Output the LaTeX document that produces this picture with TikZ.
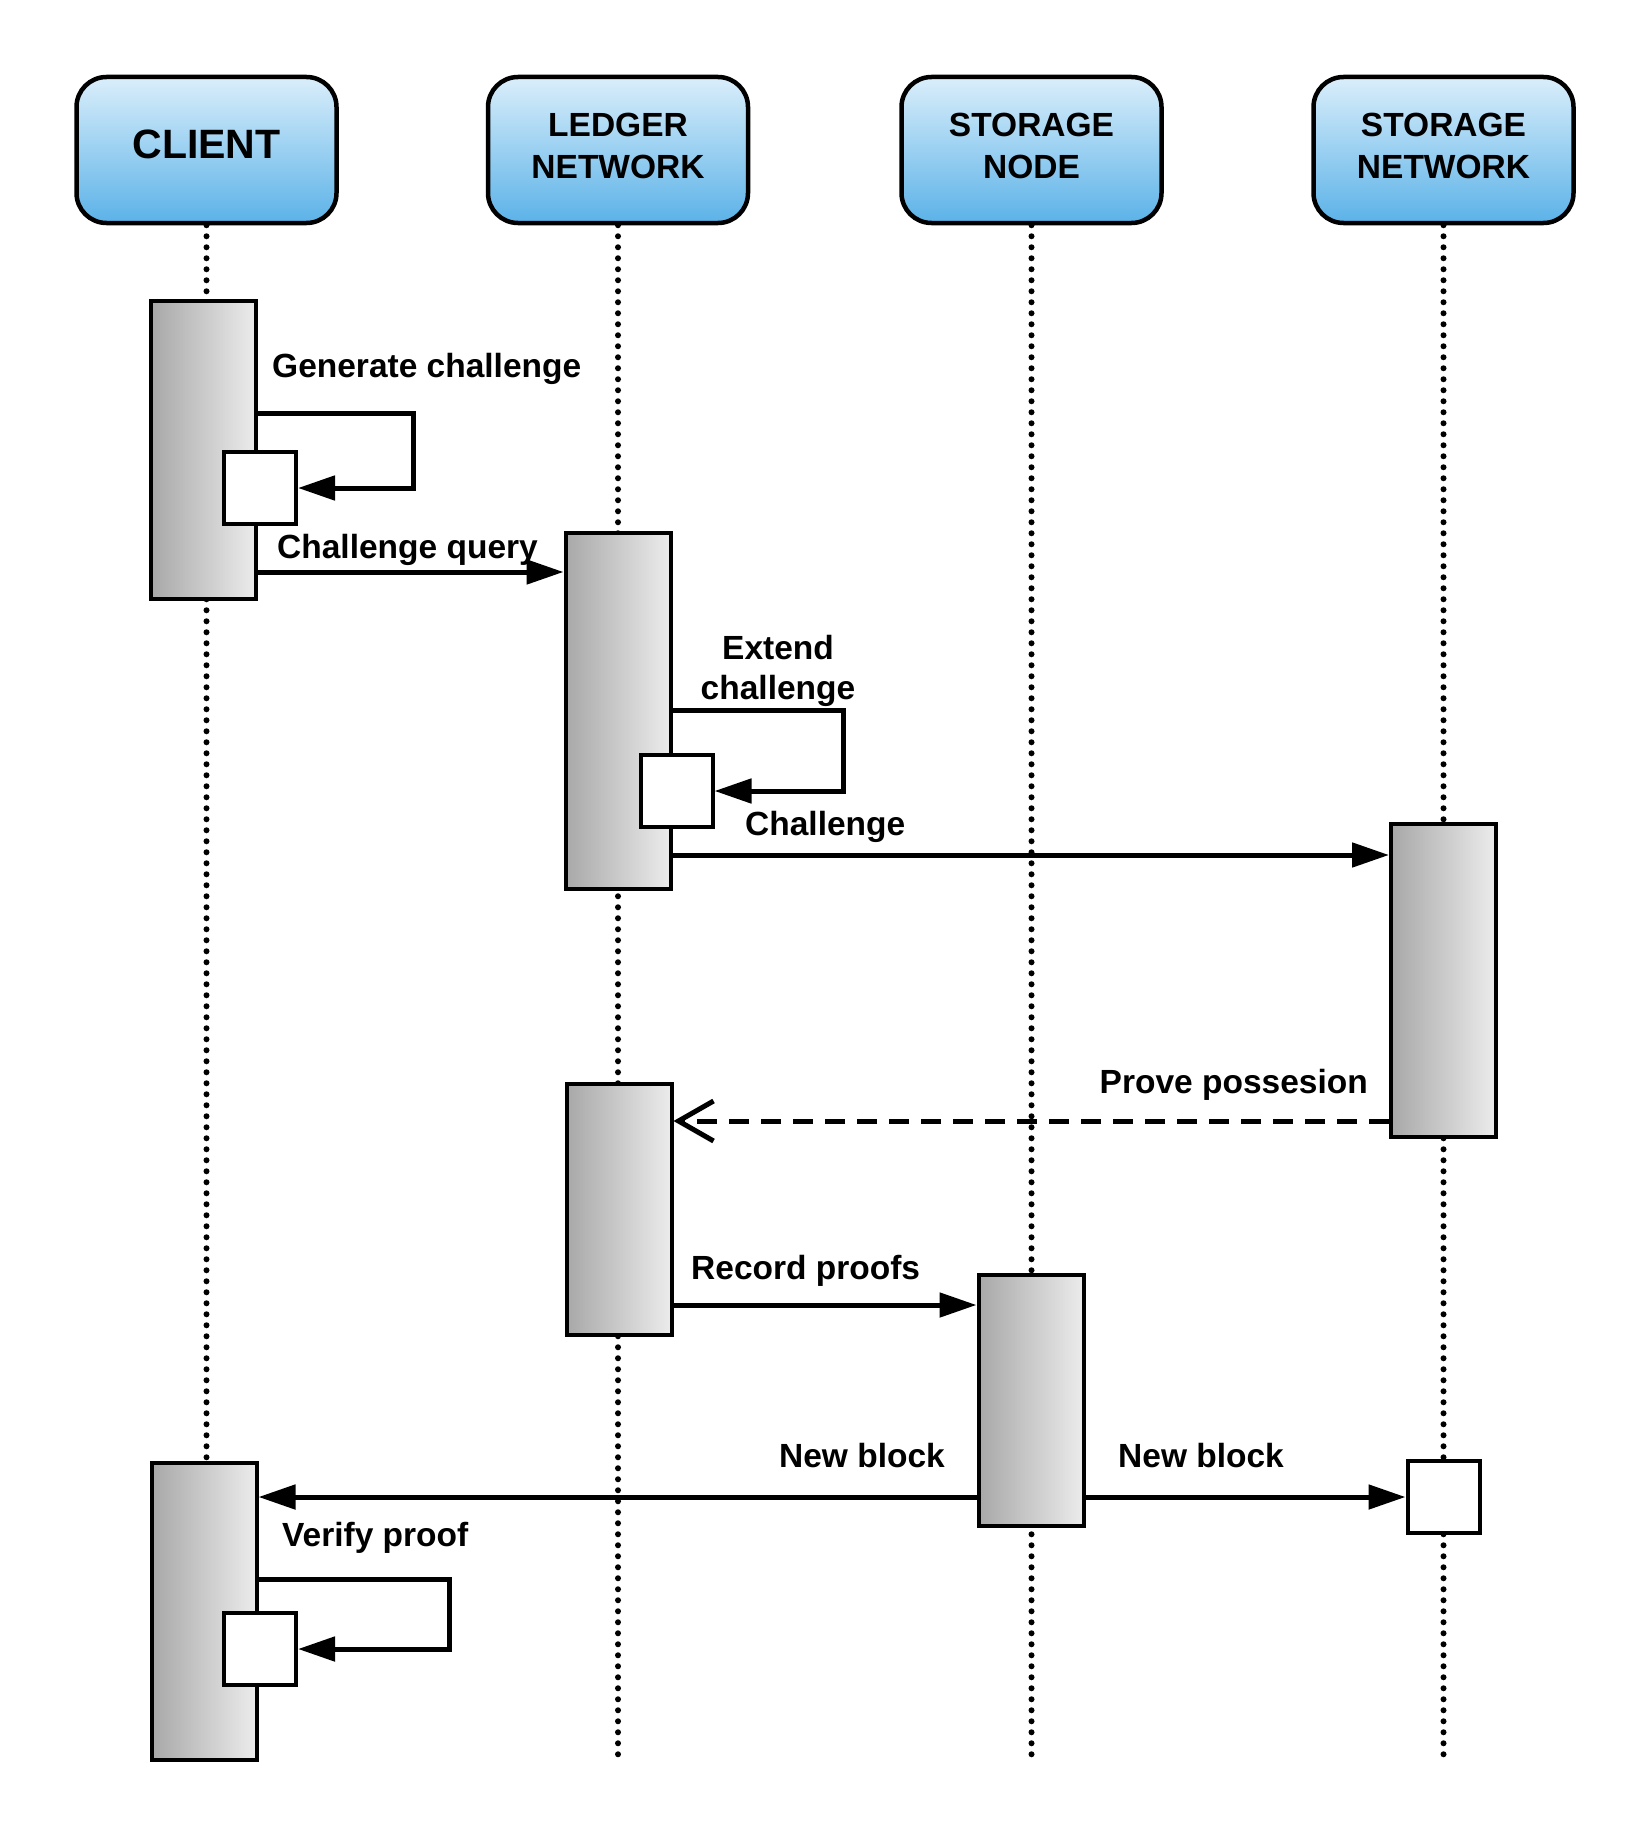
\documentclass[tikz,border=0pt]{standalone}
\usepackage{fontspec}
\setmainfont{Liberation Sans}
\usetikzlibrary{arrows.meta}

\definecolor{headtop}{RGB}{218,238,251}
\definecolor{headbottom}{RGB}{91,178,232}
\definecolor{barleft}{RGB}{168,168,168}
\definecolor{barright}{RGB}{236,236,236}

\begin{document}
\begin{tikzpicture}[
            x = 1pt, y = -1pt, % pixel units, y going down
            > = {Triangle[length=37pt,width=24pt]}, % arrow head style
            actor/.style = {draw, line width=4.5pt, rounded corners=30pt,
                top color=headtop, bottom color=headbottom,
                minimum width=260pt, minimum height=146pt, align=center,
                text depth=8pt, font=\bfseries\fontsize{33.5}{42}\selectfont},
            lifeline/.style = {line width=6pt, line cap=round, dash pattern=on 0pt off 11pt},
            activation/.style = {draw, line width=4pt, left color=barleft,
                right color=barright, minimum width=105pt, inner sep=0pt},
            selfbox/.style = {draw, line width=4pt, fill=white, minimum size=72pt, inner sep=0pt},
            msg/.style = {->, line width=5pt},
            reply/.style = {-{Straight Barb[length=35pt,width=40pt]}, line width=5pt,
                dash pattern=on 20pt off 12pt},
            lbl/.style = {inner sep=0pt, font=\bfseries\fontsize{33.5}{40}\selectfont}
        ]
    \useasboundingbox (0,0) rectangle (1650,1841);

    % participants
    \node[actor, text depth=12pt, font=\bfseries\fontsize{41}{48}\selectfont] (client) at (206.5,150) {CLIENT};
    \node[actor] (ledger) at (618,150) {LEDGER\\NETWORK};
    \node[actor] (snode) at (1031.5,150) {STORAGE\\NODE};
    \node[actor] (snet) at (1443.5,150) {STORAGE\\NETWORK};

    % lifelines
    \draw[lifeline] (client.south) -- (client.south |- 0,1763);
    \draw[lifeline] (ledger.south) -- (ledger.south |- 0,1763);
    \draw[lifeline] (snode.south) -- (snode.south |- 0,1763);
    \draw[lifeline] (snet.south) -- (snet.south |- 0,1763);

    % activations
    \node[activation, minimum height=298pt] (cbarA) at (203.5,450) {};
    \node[activation, minimum height=356pt] (lbarA) at (618,711) {};
    \node[activation, minimum height=313pt] (nbarA) at (1443.5,980.5) {};
    \node[activation, minimum height=251pt] (lbarB) at (619,1209.5) {};
    \node[activation, minimum height=251pt] (sbarA) at (1031,1400.5) {};
    \node[activation, minimum height=297pt] (cbarB) at (204,1611.5) {};

    \node[selfbox] (cselfA) at (260,488) {};
    \node[selfbox] (lselfA) at (676.5,791) {};
    \node[selfbox] (nselfB) at (1443.5,1497) {};
    \node[selfbox] (cselfB) at (260,1649) {};

    % messages
    \draw[msg] (cbarA.east |- 0,413) -- ++(155,0) |- (cselfA.east);
    \draw[msg] (cbarA.east |- 0,572) -- (lbarA.west |- 0,572);
    \draw[msg] (lbarA.east |- 0,710) -- ++(170.5,0) |- (lselfA.east);
    \draw[msg] (lbarA.east |- 0,855) -- (nbarA.west |- 0,855);
    \draw[reply] (nbarA.west |- 0,1121) -- (lbarB.east |- 0,1121);
    \draw[msg] (lbarB.east |- 0,1305) -- (sbarA.west |- 0,1305);
    \draw[msg] (sbarA.west |- 0,1497) -- (cbarB.east |- 0,1497);
    \draw[msg] (sbarA.east |- nselfB.west) -- (nselfB.west);
    \draw[msg] (cbarB.east |- 0,1579) -- ++(190.5,0) |- (cselfB.east);

    % labels
    \node[lbl, anchor=base west] (gen) at (272,377) {Generate challenge};
    \node[lbl, anchor=base west] (query) at (277,558) {Challenge query};
    \node[lbl, align=center] (extend) at (778,671) {Extend\\challenge};
    \node[lbl, anchor=base west] (chal) at (745,835) {Challenge};
    \node[lbl, anchor=base east] (prove) at (1368,1093) {Prove possesion};
    \node[lbl, anchor=base west] (record) at (691,1279) {Record proofs};
    \node[lbl, anchor=base east] (nbleft) at (945,1467) {New block};
    \node[lbl, anchor=base west] (nbright) at (1118,1467) {New block};
    \node[lbl, anchor=base west] (verify) at (282,1546) {Verify proof};

\end{tikzpicture}
\end{document}
